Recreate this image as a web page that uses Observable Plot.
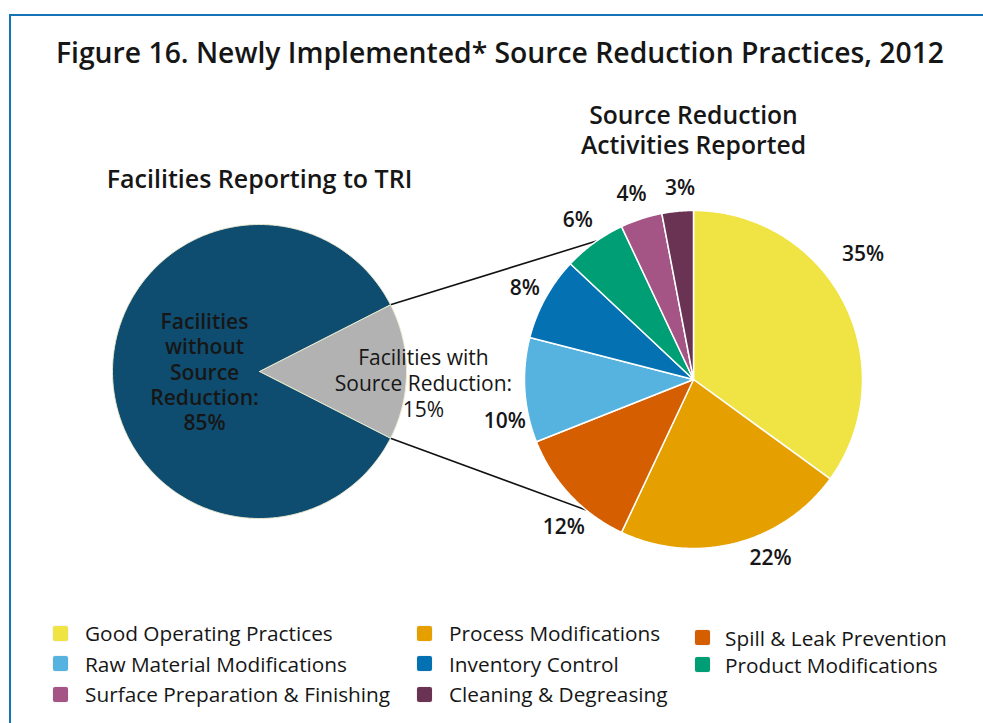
<!DOCTYPE html>
<html><head><meta charset="utf-8">
<script src="https://cdn.jsdelivr.net/npm/d3@7"></script>
<script src="https://cdn.jsdelivr.net/npm/@observablehq/plot@0.6"></script>
<style>
html,body{margin:0;padding:0;background:#fff;}
body{width:983px;height:723px;position:relative;overflow:hidden;font-family:"Open Sans",sans-serif;color:#161616;}
#frame{position:absolute;left:9px;top:14px;right:-10px;bottom:-10px;border-top:2.5px solid #1474b8;border-left:2.5px solid #1474b8;pointer-events:none;}
#title{position:relative;height:80px;box-sizing:border-box;padding-top:33px;padding-left:17px;text-align:center;font-size:28.3px;font-weight:600;line-height:38px;white-space:nowrap;}
#chart{position:relative;height:520px;}
#chart svg{display:block;}
#legend{position:relative;height:123px;}
.col{position:absolute;}
.item{display:flex;align-items:center;font-size:20.8px;white-space:nowrap;}
.sw{width:15px;height:15px;border-radius:2px;flex:none;box-shadow:0 0 0 0.5px rgba(0,0,0,0.08);}
</style>
</head><body>
<div id="frame"></div>
<div id="title">Figure 16. Newly Implemented* Source Reduction Practices, 2012</div>
<div id="chart"></div>
<div id="legend"></div>
<script>
// ---- data ----
const activities = ["Good Operating Practices","Process Modifications","Spill & Leak Prevention","Raw Material Modifications","Inventory Control","Product Modifications","Surface Preparation & Finishing","Cleaning & Degreasing"];
const activityShares = [35,22,12,10,8,6,4,3];
const activityColors = ["#efe444","#e5a000","#d55f00","#56b3e0","#0371b2","#009e74","#a45485","#6a3353"];
const facilityGroups = ["Facilities with Source Reduction","Facilities without Source Reduction"];
const facilityShares = [15,85];
const facilityColors = ["#b2b2b2","#0f4d70"];
const facilityLabels = ["Facilities with\nSource Reduction:\n15%","Facilities\nwithout\nSource\nReduction:\n85%"];
const leftTitle = "Facilities Reporting to TRI";
const rightTitle = "Source Reduction\nActivities Reported";

// ---- layout ----
const W = 983, H = 520;
const L = {cx: 259, cy: 291, r: 147};
const R = {cx: 693, cy: 299, r: 169};
const connectorTargetDeg = [325, 219.5];
// small label nudges (px) so the percentage labels sit where the original placed them
const labelNudge = [[-6,-36],[28,-12],[14,13],[8,29],[4,4],[0,0],[-1,2],[5,5]];

const rad = Math.PI/180;
const pt = (c, a, rr) => ({x: c.cx + rr*Math.sin(a), y: c.cy - rr*Math.cos(a)});

const withShare = facilityShares[0] / d3.sum(facilityShares);
const leftStart = Math.PI/2 - withShare*Math.PI;
const leftArcs = d3.pie().sort(null).startAngle(leftStart).endAngle(leftStart + 2*Math.PI)(facilityShares);
const rightArcs = d3.pie().sort(null)(activityShares);

function slicePoints(arcs, names, c){
  const pts = [];
  arcs.forEach((a, i) => {
    const n = Math.max(2, Math.ceil((a.endAngle - a.startAngle)/(Math.PI/360)));
    pts.push({k: names[i], x: c.cx, y: c.cy});
    for (let j = 0; j <= n; j++) {
      const t = a.startAngle + (a.endAngle - a.startAngle)*j/n;
      pts.push({k: names[i], ...pt(c, t, c.r)});
    }
    pts.push({k: names[i], x: c.cx, y: c.cy});
  });
  return pts;
}
const leftPts = slicePoints(leftArcs, facilityGroups, L);
const rightPts = slicePoints(rightArcs, activities, R);

const wa = leftArcs[0];
const links = [
  {a: pt(L, wa.startAngle, L.r), b: pt(R, connectorTargetDeg[0]*rad, R.r)},
  {a: pt(L, wa.endAngle, L.r), b: pt(R, connectorTargetDeg[1]*rad, R.r)}
];

const rightLabels = rightArcs.map((a, i) => {
  const p = pt(R, (a.startAngle + a.endAngle)/2, R.r + 28);
  return {x: p.x + labelNudge[i][0], y: p.y + labelNudge[i][1], t: activityShares[i] + "%"};
});
const leftLabelData = leftArcs.map((a, i) => {
  const mid = (a.startAngle + a.endAngle)/2;
  const rr = i === 0 ? L.r*1.115 : L.r*0.374;
  return {...pt(L, mid, rr), t: facilityLabels[i]};
});

const chart = Plot.plot({
  width: W, height: H,
  margin: 0,
  x: {domain: [0, W], range: [0, W], axis: null},
  y: {domain: [0, H], range: [0, H], axis: null},
  color: {type: "ordinal", domain: [...activities, ...facilityGroups], range: [...activityColors, ...facilityColors]},
  style: {fontFamily: "'Open Sans', sans-serif", color: "#161616", background: "transparent", overflow: "visible"},
  marks: [
    Plot.link(links, {x1: d => d.a.x, y1: d => d.a.y, x2: d => d.b.x, y2: d => d.b.y, stroke: "#111", strokeWidth: 1.6}),
    Plot.line(leftPts, {x: "x", y: "y", z: "k", fill: "k", stroke: "#eeecd0", strokeWidth: 1, strokeLinejoin: "round"}),
    Plot.line(rightPts, {x: "x", y: "y", z: "k", fill: "k", stroke: "white", strokeWidth: 1.5, strokeLinejoin: "round"}),
    Plot.text(leftLabelData.filter((d,i)=>i===1), {x: "x", y: "y", text: "t", fontSize: 21, fontWeight: 600, lineHeight: 1.21, fill: "#161616", dy: 0}),
    Plot.text(leftLabelData.filter((d,i)=>i===0), {x: "x", y: "y", text: "t", fontSize: 21, fontWeight: 400, lineHeight: 1.24, fill: "#161616", dy: 11}),
    Plot.text(rightLabels, {x: "x", y: "y", text: "t", fontSize: 21, fontWeight: 600, fill: "#161616"}),
    Plot.text([leftTitle], {x: L.cx, y: L.cy - L.r - 45, text: d => d, fontSize: 25, fontWeight: 600, fill: "#161616"}),
    Plot.text([rightTitle], {x: R.cx, y: R.cy - R.r - 81, text: d => d, fontSize: 24.7, fontWeight: 600, lineHeight: 1.22, fill: "#161616"})
  ]
});
document.getElementById("chart").appendChild(chart);

// ---- legend ----
const cols = [
  {left: 53, top: 618, rowH: 30.5, gap: 17, idx: [0, 3, 6]},
  {left: 417, top: 618, rowH: 30.5, gap: 17, idx: [1, 4, 7]},
  {left: 695, top: 624, rowH: 27, gap: 15, idx: [2, 5]}
];
const leg = document.getElementById("legend");
cols.forEach(c => {
  const col = document.createElement("div");
  col.className = "col";
  col.style.left = c.left + "px";
  col.style.top = (c.top - 600) + "px";
  c.idx.forEach(i => {
    const it = document.createElement("div");
    it.className = "item";
    it.style.height = c.rowH + "px";
    const sw = document.createElement("span");
    sw.className = "sw";
    sw.style.background = activityColors[i];
    sw.style.marginRight = c.gap + "px";
    const tx = document.createElement("span");
    tx.textContent = activities[i];
    it.appendChild(sw); it.appendChild(tx);
    col.appendChild(it);
  });
  leg.appendChild(col);
});
</script>
</body></html>
